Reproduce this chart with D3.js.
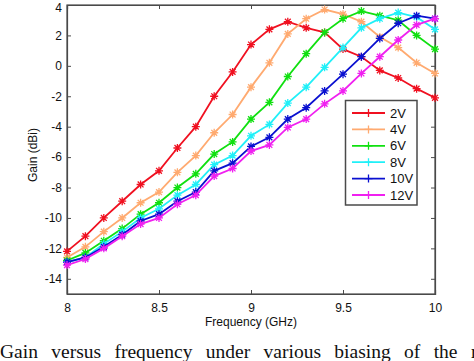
<!DOCTYPE html>
<html>
<head>
<meta charset="utf-8">
<script src="https://cdn.jsdelivr.net/npm/d3@7"></script>
<style>
  html, body { margin: 0; padding: 0; background: #fff; }
  svg { display: block; }
</style>
</head>
<body>
<svg id="chart" width="474" height="361"></svg>
<script>
const freq = [8.0, 8.1, 8.2, 8.3, 8.4, 8.5, 8.6, 8.7, 8.8, 8.9, 9.0, 9.1, 9.2, 9.3, 9.4, 9.5, 9.6, 9.7, 9.8, 9.9, 10.0];
const gain2V  = [-12.2, -11.2, -10.0, -8.9, -7.8, -6.9, -5.4, -4.0, -2.0, -0.4, 1.4, 2.4, 2.9, 2.5, 2.2, 1.1, 0.6, -0.3, -0.8, -1.5, -2.1];
const gain4V  = [-12.6, -11.9, -10.9, -10.0, -9.0, -8.3, -7.0, -5.9, -4.4, -3.2, -1.4, 0.2, 2.1, 3.1, 3.7, 3.4, 2.9, 1.9, 1.2, 0.2, -0.5];
const gain6V  = [-12.8, -12.3, -11.5, -10.7, -9.75, -9.0, -8.0, -7.1, -5.8, -5.0, -3.5, -2.4, -0.7, 0.8, 2.2, 3.1, 3.6, 3.3, 3.0, 2.0, 1.1];
const gain8V  = [-12.9, -12.6, -11.7, -10.9, -10.0, -9.4, -8.5, -7.8, -6.5, -5.9, -4.6, -3.85, -2.45, -1.4, -0.1, 1.2, 2.5, 3.1, 3.5, 3.2, 2.4];
const gain10V = [-12.9, -12.6, -11.9, -11.1, -10.2, -9.75, -8.9, -8.3, -6.9, -6.4, -5.3, -4.7, -3.5, -2.75, -1.65, -0.55, 0.6, 1.8, 2.8, 3.3, 3.1];
const gain12V = [-13.1, -12.7, -12.0, -11.2, -10.4, -10.0, -9.1, -8.5, -7.25, -6.75, -5.6, -5.2, -4.05, -3.5, -2.5, -1.65, -0.5, 0.6, 1.7, 2.7, 3.1];
const seriesNames = ["2V", "4V", "6V", "8V", "10V", "12V"];
const xTicks = [8, 8.5, 9, 9.5, 10];
const yTicks = [-14, -12, -10, -8, -6, -4, -2, 0, 2, 4];
const xTitle = "Frequency (GHz)";
const yTitle = "Gain (dBi)";
const caption = "Gain versus frequency under various biasing of the r";

const seriesValues = [gain2V, gain4V, gain6V, gain8V, gain10V, gain12V];
const colors = ["#f01020", "#ffaa70", "#10e010", "#20f0f8", "#0a10d0", "#f020f0"];

const svg = d3.select("#chart");
const L = 67, R = 435, T = 5, B = 294;
const x = d3.scaleLinear().domain([8, 10]).range([L, R]);
const y = d3.scaleLinear().domain([-15, 4]).range([B, T]);

const axisColor = "#4a4a4a";
const font = "'Liberation Sans', Arial, sans-serif";

// Axes (inward ticks, MATLAB style box)
const gB = svg.append("g").attr("transform", `translate(0,${B})`)
  .call(d3.axisBottom(x).tickValues(xTicks).tickSize(-4).tickPadding(9).tickFormat(d3.format("")));
const gT = svg.append("g").attr("transform", `translate(0,${T})`)
  .call(d3.axisTop(x).tickValues(xTicks).tickSize(-4).tickFormat(""));
const gL = svg.append("g").attr("transform", `translate(${L},0)`)
  .call(d3.axisLeft(y).tickValues(yTicks).tickSize(-4).tickPadding(5));
const gR = svg.append("g").attr("transform", `translate(${R},0)`)
  .call(d3.axisRight(y).tickValues(yTicks).tickSize(-4).tickFormat(""));
[gB, gT, gL, gR].forEach(g => {
  g.select(".domain").attr("stroke", axisColor).attr("stroke-width", 1.2);
  g.selectAll(".tick line").attr("stroke", axisColor);
  g.selectAll("text").attr("fill", "#111").style("font-family", font).style("font-size", "12px");
});
gL.selectAll(".tick text").text(d => d < 0 ? "-" + Math.abs(d) : d)
  .attr("dy", d => d === 4 ? "0.5em" : "0.32em");
svg.append("rect").attr("x", L).attr("y", T).attr("width", R - L).attr("height", B - T)
  .attr("fill", "none").attr("stroke", axisColor).attr("stroke-width", 1.2);

// Lines
const line = d3.line().x((d, i) => x(freq[i])).y(d => y(d));
const star = "M-4,0H4M0,-4V4M-2.9,-2.9L2.9,2.9M-2.9,2.9L2.9,-2.9";
seriesValues.forEach((vals, k) => {
  svg.append("path").datum(vals).attr("d", line)
    .attr("fill", "none").attr("stroke", colors[k]).attr("stroke-width", 1.8);
  svg.append("g").selectAll("path").data(vals).join("path")
    .attr("transform", (d, i) => `translate(${x(freq[i])},${y(d)})`)
    .attr("d", star).attr("fill", "none").attr("stroke", colors[k]).attr("stroke-width", 1.3);
});

// Legend
const lg = svg.append("g");
lg.append("rect").attr("x", 345.5).attr("y", 100.5).attr("width", 71.5).attr("height", 104.5)
  .attr("fill", "#fff").attr("stroke", axisColor).attr("stroke-width", 1.5);
seriesNames.forEach((n, k) => {
  const yy = 113 + k * 16.4;
  lg.append("line").attr("x1", 352).attr("x2", 385).attr("y1", yy).attr("y2", yy)
    .attr("stroke", colors[k]).attr("stroke-width", 1.8);
  lg.append("path").attr("transform", `translate(368.5,${yy})`).attr("d", "M0,-4V4M-4,0H4")
    .attr("stroke", colors[k]).attr("stroke-width", 1.3);
  lg.append("text").attr("x", 390).attr("y", yy + 4.5).text(n)
    .style("font-family", font).style("font-size", "13px").attr("fill", "#111");
});

// Titles
svg.append("text").attr("x", 251).attr("y", 326).attr("text-anchor", "middle").text(xTitle)
  .style("font-family", font).style("font-size", "12px").attr("fill", "#111");
svg.append("text").attr("transform", "translate(37,155) rotate(-90)").attr("text-anchor", "middle").text(yTitle)
  .style("font-family", font).style("font-size", "12px").attr("fill", "#111");

// Caption
svg.append("text").attr("x", 0).attr("y", 358).text(caption)
  .style("font-family", "'Liberation Serif', 'Times New Roman', serif").style("font-size", "19.5px")
  .style("word-spacing", "8.5px").attr("fill", "#111");
</script>
</body>
</html>
